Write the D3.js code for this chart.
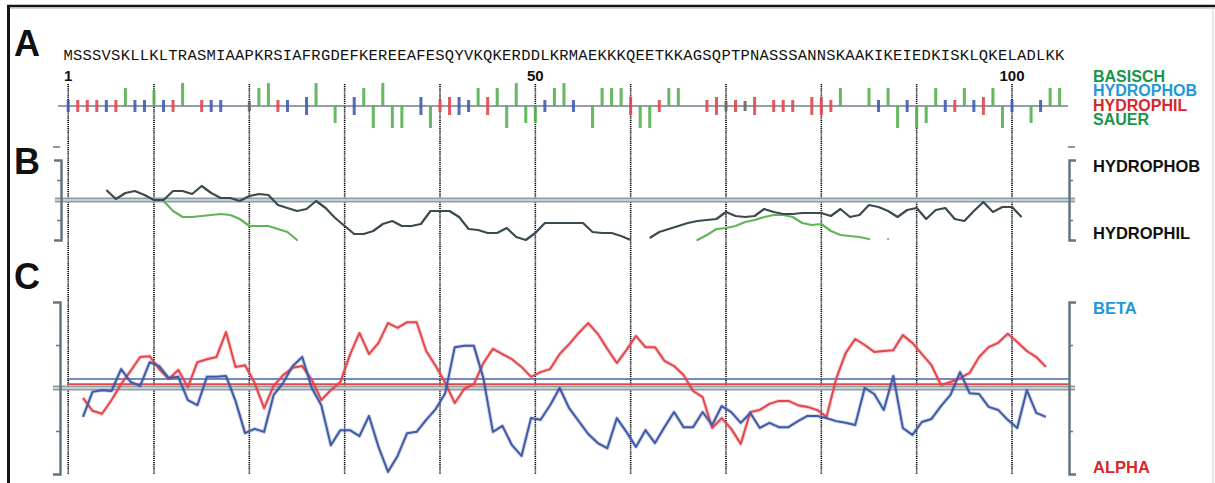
<!DOCTYPE html>
<html>
<head>
<meta charset="utf-8">
<script src="https://cdn.jsdelivr.net/npm/d3@7"></script>
<style>
  body { margin: 0; background: #fff; }
  svg { display: block; font-family: Arial, "Liberation Sans", sans-serif; }
</style>
</head>
<body>
<div id="chart"></div>
<script>
(function () {

  // ---- data ----
  const sequence = "MSSSVSKLLKLTRASMIAAPKRSIAFRGDEFKEREEAFESQYVKQKERDDLKRMAEKKKQEETKKAGSQPTPNASSSANNSKAAKIKEIEDKISKLQKELADLKK";
  const gridResidues = [1, 10, 20, 30, 40, 50, 60, 70, 80, 90, 100];
  const positionLabels = [1, 50, 100];

  // panel A: bar length per residue (charged: signed, others: half length of a centred bar)
  const barValues = [
    0.3, 0.3, 0.3, 0.3, 0.3, 0.3, 0.9, 0.3, 0.3, 0.8,
    0.3, 0.3, 1.15, 0, 0.3, 0.3, 0.3, 0, 0, 0.25,
    0.9, 1.15, 0.3, 0.3, 0, 0.45, 1.15, 0, -0.85, 0,
    0.45, 0.9, -1.1, 1.15, -1.1, -1.1, 0, 0.45, -1.1, 0.3,
    0.45, 0.45, 0.3, 0.9, 0.45, 0.9, -1.1, 1.15, -0.85, -0.85,
    0.3, 0.9, 1.15, 0.3, 0, -1.1, 0.9, 0.9, 0.9, 0.45,
    -1.1, -1.1, 0.3, 0.9, 0.9, 0, 0, 0.3, 0.45, 0.25,
    0.3, 0.25, 0.45, 0, 0.3, 0.3, 0.3, 0, 0.45, 0.45,
    0.3, 0.9, 0, 0, 0.9, 0.3, 0.9, -1.1, 0.3, -1.1,
    -0.85, 0.9, 0.3, 0.3, 0.9, 0.3, 0.45, 0.9, -1.1, 0.3,
    0, -0.85, 0.3, 0.9, 0.9
  ];
  const groupOf = {
    K: "basic", R: "basic", D: "acidic", E: "acidic",
    M: "hydrophobic", V: "hydrophobic", L: "hydrophobic", I: "hydrophobic", F: "hydrophobic", Y: "hydrophobic",
    S: "hydrophilic", T: "hydrophilic", Q: "hydrophilic", N: "hydrophilic",
    P: "neutral", A: "neutral", G: "neutral"
  };
  const groupColor = {
    basic: "#55b050", acidic: "#55b050", hydrophobic: "#3f5cb0",
    hydrophilic: "#e2474c", neutral: "#666"
  };
  const legendLabels = ["BASISCH", "HYDROPHOB", "HYDROPHIL", "SAUER"];
  const legendColors = ["#17964a", "#1e98d8", "#d8262b", "#17964a"];

  // panel B: hydropathy profile (residues 5..101) and second profile
  const hydroStart = 5;
  const hydroProfile = [
    0.50, 0.05, 0.35, 0.45, 0.25, 0.00, 0.00, 0.45, 0.45, 0.30,
    0.70, 0.35, 0.10, 0.10, -0.05, 0.20, 0.30, 0.25, -0.25, -0.40,
    -0.55, -0.45, -0.05, -0.40, -0.90, -1.30, -1.70, -1.70, -1.55, -1.20,
    -1.05, -1.30, -1.30, -1.20, -0.55, -0.55, -0.55, -0.85, -1.45, -1.50,
    -1.65, -1.65, -1.40, -1.85, -2.00, -1.65, -1.15, -1.15, -1.15, -1.15,
    -1.15, -1.60, -1.65, -1.65, -1.80, -2.00, null, -1.90, -1.60, -1.45,
    -1.30, -1.15, -1.05, -1.00, -0.95, -0.60, -0.80, -0.85, -0.80, -0.45,
    -0.60, -0.70, -0.70, -0.65, -0.65, -0.65, -0.80, -0.45, -0.85, -0.75,
    -0.25, -0.35, -0.55, -0.85, -0.50, -0.40, -0.95, -0.50, -0.40, -0.95,
    -1.05, -0.55, -0.10, -0.60, -0.35, -0.35, -0.85
  ];
  const greenStartA = 11;
  const greenProfileA = [
    -0.05, -0.55, -0.85, -0.85, -0.80, -0.75, -0.70, -0.75, -0.95, -1.30,
    -1.30, -1.30, -1.45, -1.60, -2.00
  ];
  const greenStartB = 67;
  const greenProfileB = [
    -2.00, -1.75, -1.45, -1.40, -1.30, -1.10, -1.00, -0.85, -0.75, -0.75,
    -0.85, -1.15, -1.25, -1.20, -1.55, -1.75, -1.80, -1.85, -1.95, null, -1.95
  ];

  // panel C: secondary structure propensities (residues 3..104)
  const structStart = 3;
  const alphaProfile = [
    -0.23, -0.53, -0.60, -0.28, 0.09, 0.40, 0.72, 0.74, 0.44, 0.21,
    0.42, 0.02, 0.60, 0.67, 0.72, 1.30, 0.49, 0.53, 0.12, -0.47,
    0.05, 0.30, 0.47, 0.51, 0.19, -0.28, -0.05, 0.14, 0.77, 1.28,
    0.79, 1.05, 1.51, 1.40, 1.53, 1.53, 0.86, 0.51, 0.12, -0.35,
    -0.02, 0.09, 0.58, 0.91, 0.79, 0.67, 0.49, 0.26, 0.37, 0.44,
    0.79, 1.02, 1.28, 1.51, 1.26, 0.91, 0.58, 0.88, 1.21, 0.95,
    0.95, 0.63, 0.51, 0.30, -0.07, -0.21, -0.93, -0.70, -0.95, -1.30,
    -0.56, -0.51, -0.37, -0.30, -0.30, -0.40, -0.44, -0.51, -0.67, 0.21,
    0.81, 1.14, 1.00, 0.84, 0.86, 0.88, 1.23, 1.05, 0.79, 0.53,
    0.07, 0.14, 0.23, 0.35, 0.72, 0.95, 1.05, 1.26, 1.07, 0.86,
    0.72, 0.49
  ];
  const betaProfile = [
    -0.67, -0.09, -0.05, -0.07, 0.44, 0.14, 0.05, 0.60, 0.51, 0.23,
    0.26, -0.28, -0.40, 0.26, 0.26, 0.28, -0.30, -1.05, -0.95, -1.02,
    -0.16, 0.12, 0.51, 0.72, 0.00, -0.40, -1.33, -0.98, -0.98, -1.12,
    -0.65, -1.37, -1.95, -1.58, -1.05, -1.02, -0.74, -0.49, -0.12, 0.95,
    0.98, 0.98, 0.23, -1.02, -0.88, -1.33, -1.58, -0.70, -0.74, -0.40,
    0.00, -0.47, -0.77, -1.07, -1.28, -1.40, -0.70, -1.02, -1.37, -0.98,
    -1.28, -0.91, -0.56, -0.91, -0.91, -0.56, -0.86, -0.42, -0.56, -0.81,
    -0.58, -0.93, -0.81, -0.91, -0.91, -0.77, -0.65, -0.65, -0.70, -0.77,
    -0.81, -0.86, 0.00, -0.14, -0.51, 0.28, -0.93, -1.09, -0.79, -0.72,
    -0.42, -0.16, 0.37, -0.12, -0.14, -0.44, -0.51, -0.74, -0.93, -0.05,
    -0.58, -0.67
  ];
  const betaThreshold = 0.21;
  const alphaThreshold = 0.09;
  const structShift = -0.45; // profile points sit a little left of the residue

  // ---- chart settings ----
  const svg_width = 1215, svg_height = 483;
  const bracketColor = "#66767f";

  const svg = d3.select("#chart").append("svg")
    .attr("width", svg_width)
    .attr("height", svg_height);

  // scales
  const x = d3.scaleLinear().domain([10, 100]).range([154, 1012]);
  const cell = x(2) - x(1);
  const yA = d3.scaleLinear().domain([-1.5, 1.5]).range([136, 76]);
  const yB = d3.scaleLinear().domain([-2, 2]).range([240, 160]);
  const yC = d3.scaleLinear().domain([-2, 2]).range([474, 302]);

  // frame
  svg.append("line").attr("x1", 7).attr("x2", 1215).attr("y1", 8.3).attr("y2", 8.3)
    .attr("stroke", "#c8c8c8").attr("stroke-width", 1);
  svg.append("line").attr("x1", 7).attr("x2", 1215).attr("y1", 6).attr("y2", 6)
    .attr("stroke", "#151515").attr("stroke-width", 2.6);
  svg.append("line").attr("x1", 8.5).attr("x2", 8.5).attr("y1", 5).attr("y2", 483)
    .attr("stroke", "#151515").attr("stroke-width", 3);
  svg.append("line").attr("x1", 1213).attr("x2", 1213).attr("y1", 7).attr("y2", 483)
    .attr("stroke", "#d4d8da").attr("stroke-width", 1.2);

  // panel letters
  [["A", 56], ["B", 174], ["C", 289]].forEach(function (d) {
    svg.append("text").attr("x", 14).attr("y", d[1])
      .style("font-size", "36px").style("font-weight", "bold").attr("fill", "#111")
      .text(d[0]);
  });

  // dotted residue grid
  svg.selectAll(".grid")
    .data(gridResidues)
    .enter().append("line")
    .attr("class", "grid")
    .attr("x1", d => x(d)).attr("x2", d => x(d))
    .attr("y1", 84).attr("y2", 474)
    .attr("stroke", "#000").attr("stroke-width", 1.6)
    .attr("stroke-dasharray", "1.2,0.9");

  // ---- panel A ----
  svg.append("text")
    .attr("x", x(1) - cell / 2)
    .attr("y", 60)
    .attr("textLength", cell * sequence.length)
    .attr("lengthAdjust", "spacing")
    .style("font-family", "\"Courier New\", \"Liberation Mono\", monospace")
    .style("font-size", "15.5px")
    .attr("fill", "#111")
    .text(sequence);

  svg.selectAll(".pos-label")
    .data(positionLabels)
    .enter().append("text")
    .attr("class", "pos-label")
    .attr("x", d => x(d)).attr("y", 81)
    .attr("text-anchor", "middle")
    .style("font-size", "15px").style("font-weight", "bold").attr("fill", "#111")
    .text(d => d);

  svg.append("line")
    .attr("x1", 58).attr("x2", 1068).attr("y1", yA(0)).attr("y2", yA(0))
    .attr("stroke", "#6f7d92").attr("stroke-width", 1.6);

  const bars = sequence.split("").map((aa, i) => ({
    pos: i + 1, v: barValues[i], group: groupOf[aa]
  })).filter(d => d.v !== 0);

  svg.selectAll(".res-bar")
    .data(bars)
    .enter().append("rect")
    .attr("class", "res-bar")
    .attr("x", d => x(d.pos) - 1.5)
    .attr("width", 3)
    .attr("y", function (d) {
      if (d.group === "basic" || d.group === "acidic") return Math.min(yA(0), yA(d.v));
      return yA(d.v);
    })
    .attr("height", function (d) {
      if (d.group === "basic" || d.group === "acidic") return Math.abs(yA(d.v) - yA(0));
      return yA(-d.v) - yA(d.v);
    })
    .attr("fill", d => groupColor[d.group])
    .attr("opacity", 0.9);

  svg.selectAll(".legend-a")
    .data(legendLabels)
    .enter().append("text")
    .attr("class", "legend-a")
    .attr("x", 1093).attr("y", (d, i) => 81.5 + i * 14.5)
    .style("font-size", "16px").style("font-weight", "bold")
    .attr("fill", (d, i) => legendColors[i])
    .text(d => d);

  // ---- bracket axes ----
  function bracket(g) {
    g.selectAll("text").remove();
    g.select(".domain").attr("stroke", bracketColor).attr("stroke-width", 2.5);
    g.selectAll(".tick line").attr("stroke", bracketColor).attr("stroke-width", 1.5);
  }

  // ---- panel B ----
  const midB = svg.append("g");
  midB.append("line").attr("x1", 55).attr("x2", 1075).attr("y1", yB(0)).attr("y2", yB(0))
    .attr("stroke", "#8e9ea5").attr("stroke-width", 5);
  midB.append("line").attr("x1", 55).attr("x2", 1075).attr("y1", yB(0)).attr("y2", yB(0))
    .attr("stroke", "#c5d0d4").attr("stroke-width", 2);

  svg.append("g").attr("transform", "translate(61,0)")
    .call(d3.axisLeft(yB).tickValues([-1, 1]).tickSize(4).tickSizeOuter(7).tickFormat(""))
    .call(bracket);
  svg.append("g").attr("transform", "translate(1069,0)")
    .call(d3.axisRight(yB).tickValues([-1, 1]).tickSize(4).tickSizeOuter(7).tickFormat(""))
    .call(bracket);
  [[53, 60], [1068, 1075]].forEach(function (d) {
    svg.append("line").attr("x1", d[0]).attr("x2", d[1]).attr("y1", yB(2.65)).attr("y2", yB(2.65))
      .attr("stroke", bracketColor).attr("stroke-width", 1.5);
  });

  const lineB = d3.line()
    .defined(d => d.v !== null)
    .x(d => x(d.r))
    .y(d => yB(d.v));

  function toPoints(start, arr) {
    return arr.map((v, i) => ({ r: start + i, v: v }));
  }

  [[greenStartA, greenProfileA], [greenStartB, greenProfileB]].forEach(function (s) {
    svg.append("path")
      .datum(toPoints(s[0], s[1]))
      .attr("d", lineB)
      .attr("fill", "none")
      .attr("stroke", "#62b556").attr("stroke-width", 2.2)
      .attr("stroke-linecap", "round").attr("stroke-linejoin", "round");
  });

  svg.append("path")
    .datum(toPoints(hydroStart, hydroProfile))
    .attr("d", lineB)
    .attr("fill", "none")
    .attr("stroke", "#3b4950").attr("stroke-width", 2.2)
    .attr("stroke-linejoin", "round");

  svg.append("text").attr("x", 1093).attr("y", 171.5)
    .style("font-size", "16.5px").style("font-weight", "bold").attr("fill", "#111")
    .text("HYDROPHOB");
  svg.append("text").attr("x", 1093).attr("y", 239)
    .style("font-size", "16.5px").style("font-weight", "bold").attr("fill", "#111")
    .text("HYDROPHIL");

  // ---- panel C ----
  const midC = svg.append("g");
  midC.append("line").attr("x1", 53).attr("x2", 1075).attr("y1", yC(0)).attr("y2", yC(0))
    .attr("stroke", "#8e9ea5").attr("stroke-width", 5);
  midC.append("line").attr("x1", 53).attr("x2", 1075).attr("y1", yC(0)).attr("y2", yC(0))
    .attr("stroke", "#c5d0d4").attr("stroke-width", 2);

  svg.append("line").attr("x1", 67).attr("x2", 1069)
    .attr("y1", yC(betaThreshold)).attr("y2", yC(betaThreshold))
    .attr("stroke", "#4863b0").attr("stroke-width", 1.6);
  svg.append("line").attr("x1", 67).attr("x2", 1069)
    .attr("y1", yC(alphaThreshold)).attr("y2", yC(alphaThreshold))
    .attr("stroke", "#e2474c").attr("stroke-width", 1.6);

  svg.append("g").attr("transform", "translate(60,0)")
    .call(d3.axisLeft(yC).tickValues([-1, 1]).tickSize(4).tickSizeOuter(7).tickFormat(""))
    .call(bracket);
  svg.append("g").attr("transform", "translate(1069,0)")
    .call(d3.axisRight(yC).tickValues([-1, 1]).tickSize(4).tickSizeOuter(7).tickFormat(""))
    .call(bracket);

  const lineC = d3.line()
    .x(d => x(d.r + structShift))
    .y(d => yC(d.v));

  [[alphaProfile, "#e4474b"], [betaProfile, "#3f5aa8"]].forEach(function (s) {
    const pts = toPoints(structStart, s[0]);
    svg.append("path").datum(pts).attr("d", lineC)
      .attr("fill", "none").attr("stroke", s[1]).attr("stroke-width", 4)
      .attr("stroke-opacity", 0.25).attr("stroke-linejoin", "round");
    svg.append("path").datum(pts).attr("d", lineC)
      .attr("fill", "none").attr("stroke", s[1]).attr("stroke-width", 2)
      .attr("stroke-linejoin", "round");
  });

  svg.append("text").attr("x", 1093).attr("y", 314)
    .style("font-size", "16.5px").style("font-weight", "bold").attr("fill", "#1e98d8")
    .text("BETA");
  svg.append("text").attr("x", 1093).attr("y", 473)
    .style("font-size", "16.5px").style("font-weight", "bold").attr("fill", "#d8262b")
    .text("ALPHA");

})();
</script>
</body>
</html>
